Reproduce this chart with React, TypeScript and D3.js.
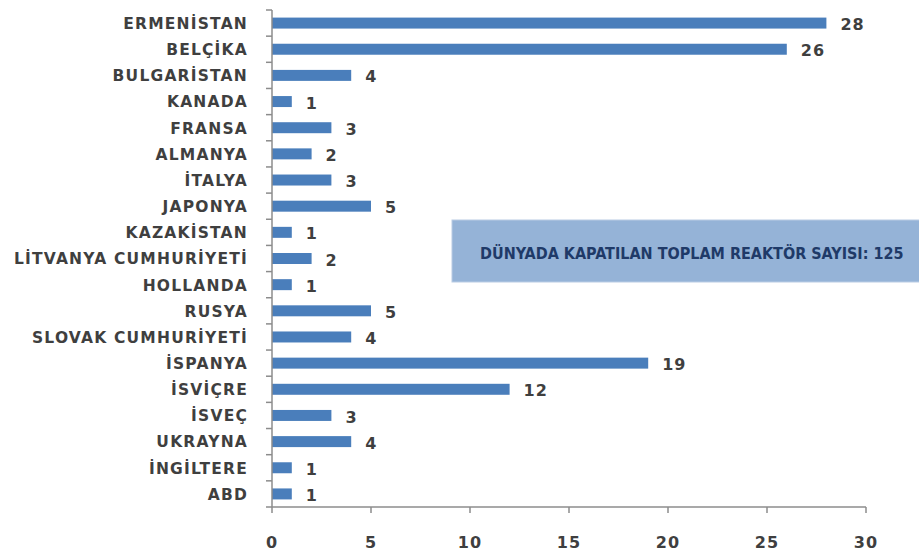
import React, { useEffect, useRef } from 'react';
import * as d3 from 'd3';

// closed reactors per country
const countries: string[] = [
  'ERMENİSTAN', 'BELÇİKA', 'BULGARİSTAN', 'KANADA', 'FRANSA', 'ALMANYA', 'İTALYA',
  'JAPONYA', 'KAZAKİSTAN', 'LİTVANYA CUMHURİYETİ', 'HOLLANDA', 'RUSYA',
  'SLOVAK CUMHURİYETİ', 'İSPANYA', 'İSVİÇRE', 'İSVEÇ', 'UKRAYNA', 'İNGİLTERE', 'ABD',
];
const reactors: number[] = [28, 26, 4, 1, 3, 2, 3, 5, 1, 2, 1, 5, 4, 19, 12, 3, 4, 1, 1];
const xTicks: number[] = [0, 5, 10, 15, 20, 25, 30];
const totalLabel = 'DÜNYADA KAPATILAN TOPLAM REAKTÖR SAYISI: 125';

const width = 919;
const height = 552;
const margin = { left: 272, right: 53, top: 10, bottom: 45 };
const textColor = '#3f3f3f';
const barColor = '#4a7ebb';

export default function App() {
  const svgRef = useRef<SVGSVGElement>(null);

  useEffect(() => {
    const svg = d3.select(svgRef.current);
    svg.selectAll('*').remove();

    const x = d3.scaleLinear().domain([0, 30]).range([margin.left, width - margin.right]);
    const y = d3.scaleBand().domain(countries)
      .range([margin.top, height - margin.bottom])
      .paddingInner(0.58).paddingOuter(0.29);
    const step = y.step();
    const y0 = margin.top;
    const y1 = height - margin.bottom;

    // bars
    svg.append('g').selectAll('rect').data(countries).enter().append('rect')
      .attr('x', x(0))
      .attr('y', (d) => y(d)!)
      .attr('width', (d, i) => x(reactors[i]) - x(0))
      .attr('height', y.bandwidth())
      .attr('fill', barColor);

    // value labels
    svg.append('g').selectAll('text').data(countries).enter().append('text')
      .attr('x', (d, i) => x(reactors[i]) + 14)
      .attr('y', (d) => y(d)! + y.bandwidth() / 2 + 1)
      .attr('dy', '0.38em')
      .attr('font-family', 'DejaVu Sans')
      .attr('font-weight', 'bold')
      .attr('font-size', 16)
      .attr('letter-spacing', 1)
      .attr('fill', textColor)
      .text((d, i) => reactors[i]);

    // left axis
    const axisColor = '#8c8c8c';
    svg.append('line')
      .attr('x1', x(0)).attr('x2', x(0)).attr('y1', y0).attr('y2', y1)
      .attr('stroke', axisColor).attr('stroke-width', 1.5);
    svg.append('g').selectAll('line').data(d3.range(countries.length + 1)).enter().append('line')
      .attr('x1', x(0) - 6).attr('x2', x(0))
      .attr('y1', (i) => y0 + i * step).attr('y2', (i) => y0 + i * step)
      .attr('stroke', axisColor).attr('stroke-width', 1.5);
    svg.append('g').selectAll('text').data(countries).enter().append('text')
      .attr('x', x(0) - 24)
      .attr('y', (d) => y(d)! + y.bandwidth() / 2)
      .attr('dy', '0.38em')
      .attr('text-anchor', 'end')
      .attr('font-family', 'DejaVu Sans')
      .attr('font-weight', 'bold')
      .attr('font-size', 15.5)
      .attr('letter-spacing', 1.2)
      .attr('fill', textColor)
      .text((d) => d);

    // bottom axis
    svg.append('line')
      .attr('x1', x(0)).attr('x2', x(30)).attr('y1', y1).attr('y2', y1)
      .attr('stroke', axisColor).attr('stroke-width', 1.5);
    svg.append('g').selectAll('line').data(xTicks).enter().append('line')
      .attr('x1', (d) => x(d)).attr('x2', (d) => x(d))
      .attr('y1', y1).attr('y2', y1 + 6)
      .attr('stroke', axisColor).attr('stroke-width', 1.5);
    svg.append('g').selectAll('text').data(xTicks).enter().append('text')
      .attr('x', (d) => x(d))
      .attr('y', y1 + 35)
      .attr('dy', '0.38em')
      .attr('text-anchor', 'middle')
      .attr('font-family', 'DejaVu Sans')
      .attr('font-weight', 'bold')
      .attr('font-size', 16)
      .attr('letter-spacing', 1)
      .attr('fill', textColor)
      .text((d) => d);

    // total box
    svg.append('rect')
      .attr('x', 452).attr('y', 220).attr('width', 480).attr('height', 62)
      .attr('fill', '#95b3d7').attr('stroke', '#b9cce4');
    svg.append('text')
      .attr('x', 480).attr('y', 253)
      .attr('dy', '0.35em')
      .attr('font-family', 'DejaVu Sans Condensed')
      .attr('font-weight', 'bold')
      .attr('font-size', 16)
      .attr('fill', '#1f3a68')
      .text(totalLabel);
  }, []);

  return (
    <div style={{ position: 'absolute', left: 0, top: 0, background: '#fff' }}>
      <svg ref={svgRef} width={width} height={height} />
    </div>
  );
}
